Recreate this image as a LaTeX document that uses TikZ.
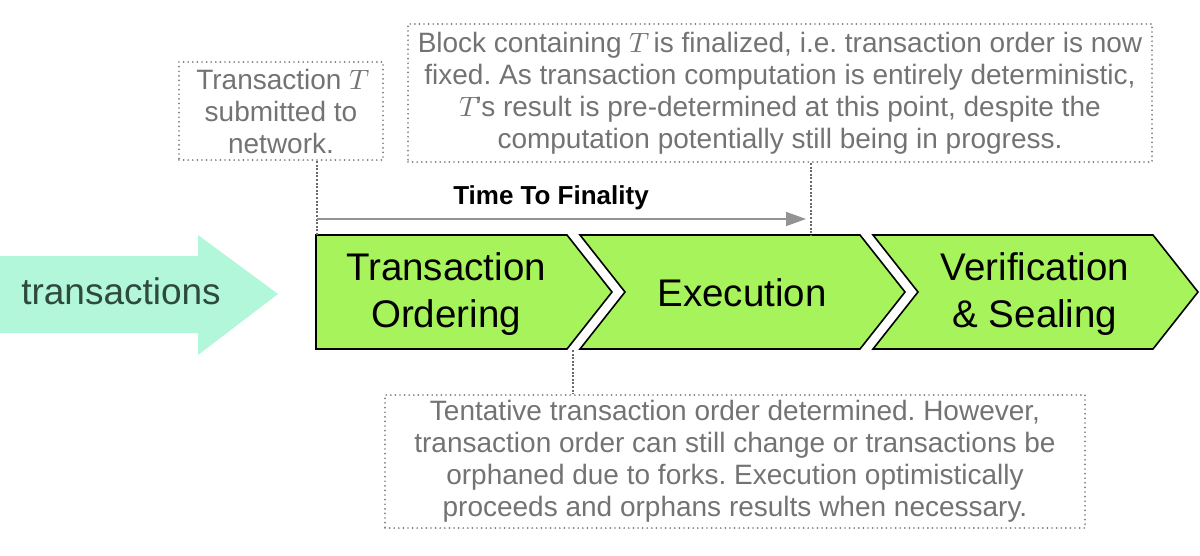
\documentclass[tikz,border=0pt]{standalone}
\usepackage{fontspec}
\setmainfont{Liberation Sans}
\newfontfamily\lmmath{Latin Modern Math}
\newcommand{\TT}{{\lmmath 𝑇}}
\usetikzlibrary{arrows.meta}
\definecolor{mint}{HTML}{B3F7DB}
\definecolor{lime}{HTML}{A6F35B}
\definecolor{notegray}{HTML}{737373}
\definecolor{dotgray}{HTML}{7A7A7A}
\definecolor{conngray}{HTML}{6A6A6A}
\definecolor{darktx}{HTML}{2E4A40}
\frenchspacing
\begin{document}
\begin{tikzpicture}[x=1pt,y=-1pt,
  chev/.style={fill=lime,draw=black,line width=1.6pt,line join=miter},
  chevtext/.style={font=\fontsize{38.5}{47}\selectfont,align=center,inner sep=0pt},
  notebox/.style={draw=dotgray,line width=1.9pt,dash pattern=on 0pt off 4.6pt,line cap=round,
    text=notegray,font=\fontsize{28}{32}\selectfont\frenchspacing,align=center,inner sep=0pt},
  conn/.style={draw=conngray,line width=1.6pt,dash pattern=on 2pt off 1.6pt},
  ttf/.style={draw=gray!85,line width=1.6pt,-{Triangle[length=20pt,width=14pt]}}]
\useasboundingbox (0,0) rectangle (1200,555);

% incoming arrow
\fill[mint] (0,256) -- (198,256) -- (198,235) -- (278,294) -- (198,355) -- (198,333) -- (0,333) -- cycle;
\node[font=\fontsize{37}{44}\selectfont,text=darktx,inner sep=0pt] (tx) at (121,291) {transactions};

% chevrons
\draw[chev] (316,235) -- (567,235) -- (612,292) -- (567,349) -- (316,349) -- cycle;
\draw[chev] (580,235) -- (860,235) -- (905,292) -- (860,349) -- (580,349) -- (625,292) -- cycle;
\draw[chev] (873,235) -- (1153,235) -- (1198,292) -- (1153,349) -- (873,349) -- (918,292) -- cycle;
\node[chevtext] (c1) at (446,294) {Transaction\\Ordering};
\node[chevtext] (c2) at (742,293) {Execution};
\node[chevtext] (c3) at (1035,294) {Verification\\\& Sealing};

% notes
\node[notebox,minimum width=204pt,minimum height=98pt] (n1) at (281,111)
  {Transaction \TT\\submitted to\\network.};
\node[notebox,minimum width=744pt,minimum height=138pt] (n2) at (780,93)
  {Block containing \TT\ is finalized, i.e. transaction order is now\\
   fixed. As transaction computation is entirely deterministic,\\
   \TT's result is pre-determined at this point, despite the\\
   computation potentially still being in progress.};
\node[notebox,minimum width=700pt,minimum height=133pt] (n3) at (735,461.5)
  {Tentative transaction order determined. However,\\
   transaction order can still change or transactions be\\
   orphaned due to forks. Execution optimistically\\
   proceeds and orphans results when necessary.};

% connectors
\coordinate (a1) at (317,235);
\coordinate (a2) at (811,235);
\coordinate (a3) at (573,350);
\draw[conn] (n1.south -| a1) -- (a1);
\draw[conn] (n2.south -| a2) -- (a2);
\draw[conn] (a3) -- (n3.north -| a3);

% time to finality
\coordinate (f1) at (317,219);
\coordinate (f2) at (806,219);
\draw[ttf] (f1) -- (f2);
\node[font=\bfseries\fontsize{26}{30}\selectfont,inner sep=0pt] (ttfl) at (551,198) {Time To Finality};
\end{tikzpicture}
\end{document}
